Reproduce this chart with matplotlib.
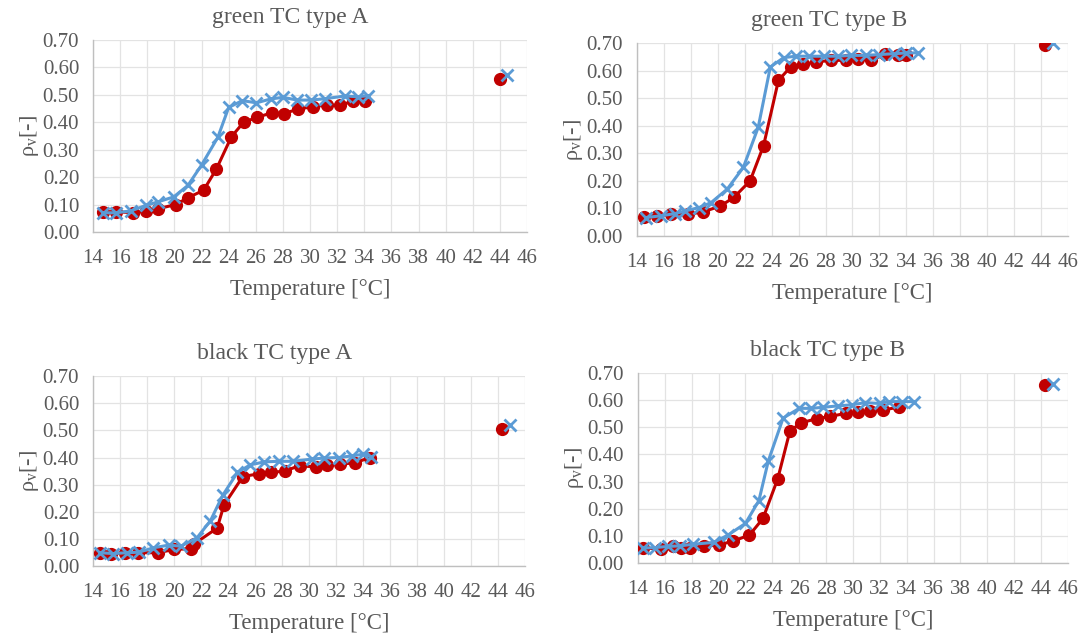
import matplotlib
matplotlib.use("Agg")
import matplotlib.pyplot as plt

plt.rcParams['font.family'] = ['Liberation Serif', 'DejaVu Serif']
plt.rcParams['mathtext.fontset'] = 'custom'
plt.rcParams['mathtext.rm'] = 'Liberation Serif'
plt.rcParams['mathtext.it'] = 'Liberation Serif:italic'

# green TC type A
ga_t_red = [14.75, 15.7, 16.95, 17.9, 18.8, 20.1, 21.0, 22.15, 23.1, 24.2, 25.1, 26.1, 27.2, 28.1, 29.1, 30.2, 31.25, 32.2, 33.2, 34.05]
ga_v_red = [0.073, 0.073, 0.071, 0.077, 0.085, 0.100, 0.125, 0.152, 0.230, 0.347, 0.400, 0.418, 0.435, 0.432, 0.448, 0.457, 0.463, 0.462, 0.477, 0.477]
ga_t_blue = [14.75, 15.7, 16.8, 17.9, 18.8, 19.95, 21.0, 22.0, 23.2, 24.0, 25.0, 26.05, 27.1, 28.0, 29.05, 30.1, 31.1, 32.6, 33.5, 34.3]
ga_v_blue = [0.070, 0.070, 0.077, 0.097, 0.110, 0.128, 0.170, 0.244, 0.345, 0.454, 0.479, 0.471, 0.485, 0.491, 0.481, 0.481, 0.486, 0.496, 0.493, 0.497]
ga_out = [44.0, 0.558, 44.55, 0.572]

# green TC type B
gb_t_red = [14.5, 15.5, 16.5, 17.8, 18.9, 20.2, 21.2, 22.4, 23.4, 24.5, 25.4, 26.3, 27.3, 28.4, 29.5, 30.4, 31.4, 32.4, 33.4, 34.0]
gb_v_red = [0.069, 0.073, 0.079, 0.079, 0.087, 0.109, 0.140, 0.200, 0.328, 0.564, 0.613, 0.623, 0.631, 0.637, 0.637, 0.643, 0.637, 0.659, 0.655, 0.655]
gb_t_blue = [14.7, 15.75, 16.8, 17.6, 18.6, 19.5, 20.7, 21.9, 23.0, 23.9, 24.9, 25.8, 26.8, 27.85, 28.9, 29.9, 31.0, 32.0, 33.05, 34.0, 34.9]
gb_v_blue = [0.067, 0.073, 0.081, 0.091, 0.103, 0.121, 0.170, 0.249, 0.394, 0.613, 0.647, 0.652, 0.652, 0.652, 0.652, 0.655, 0.655, 0.658, 0.661, 0.664, 0.664]
gb_out = [44.3, 0.694, 44.9, 0.700]

# black TC type A
ba_t_red = [14.5, 15.35, 16.4, 17.3, 18.8, 20.0, 21.25, 21.45, 23.2, 23.7, 25.1, 26.3, 27.2, 28.2, 29.3, 30.5, 31.3, 32.3, 33.4, 34.5]
ba_v_red = [0.049, 0.046, 0.049, 0.049, 0.049, 0.061, 0.064, 0.080, 0.140, 0.225, 0.330, 0.340, 0.345, 0.350, 0.370, 0.365, 0.372, 0.376, 0.380, 0.400]
ba_t_blue = [14.5, 15.5, 16.5, 17.4, 18.45, 19.6, 20.5, 21.7, 22.7, 23.6, 24.7, 25.65, 26.7, 27.75, 28.8, 30.2, 31.1, 32.2, 33.2, 34.0, 34.6]
ba_v_blue = [0.049, 0.046, 0.049, 0.051, 0.067, 0.077, 0.073, 0.104, 0.167, 0.260, 0.345, 0.373, 0.384, 0.386, 0.386, 0.394, 0.398, 0.400, 0.406, 0.412, 0.403]
ba_out = [44.3, 0.505, 44.9, 0.520]

# black TC type B
bb_t_red = [14.4, 15.7, 16.6, 17.2, 17.9, 18.9, 20.05, 21.1, 22.3, 23.3, 24.4, 25.3, 26.1, 27.3, 28.3, 29.5, 30.4, 31.3, 32.2, 33.4]
bb_v_red = [0.055, 0.052, 0.061, 0.055, 0.057, 0.061, 0.067, 0.081, 0.103, 0.164, 0.310, 0.485, 0.516, 0.532, 0.540, 0.552, 0.555, 0.562, 0.564, 0.574]
bb_t_blue = [14.4, 15.3, 16.2, 17.1, 18.1, 19.65, 20.7, 22.0, 23.0, 23.7, 24.8, 26.0, 26.9, 27.8, 28.85, 29.9, 30.9, 32.0, 32.7, 33.65, 34.55]
bb_v_blue = [0.055, 0.057, 0.061, 0.063, 0.069, 0.076, 0.103, 0.146, 0.230, 0.376, 0.534, 0.570, 0.570, 0.574, 0.579, 0.583, 0.591, 0.588, 0.595, 0.595, 0.595]
bb_out = [44.3, 0.655, 44.85, 0.659]

titles = ["green TC type A", "green TC type B", "black TC type A", "black TC type B"]
xticks = list(range(14, 47, 2))
yticks = [0.0, 0.1, 0.2, 0.3, 0.4, 0.5, 0.6, 0.7]

red = '#C00000'
blue = '#5B9BD5'
txt = '#595959'

fig = plt.figure(figsize=(10.78, 6.33), dpi=100)

boxes = [
    [0.0863, 0.6335, 0.4026, 0.3033],
    [0.5909, 0.6272, 0.3998, 0.3049],
    [0.0863, 0.1058, 0.4007, 0.3000],
    [0.5918, 0.1106, 0.3989, 0.3000],
]
title_x = [0.455, 0.445, 0.42, 0.44]

panels = [
    (ga_t_red, ga_v_red, ga_t_blue, ga_v_blue, ga_out),
    (gb_t_red, gb_v_red, gb_t_blue, gb_v_blue, gb_out),
    (ba_t_red, ba_v_red, ba_t_blue, ba_v_blue, ba_out),
    (bb_t_red, bb_v_red, bb_t_blue, bb_v_blue, bb_out),
]

for i, (tr, vr, tb, vb, out) in enumerate(panels):
    ax = fig.add_axes(boxes[i])
    ax.plot(tr, vr, color=red, lw=2.2, marker='o', ms=8.5, zorder=3)
    ax.plot(tb, vb, color=blue, lw=2.2, marker='x', ms=8.5, mew=2, zorder=4)
    ax.plot([out[0]], [out[1]], color=red, marker='o', ms=8.5, ls='none', zorder=3)
    ax.plot([out[2]], [out[3]], color=blue, marker='x', ms=8.5, mew=2, ls='none', zorder=4)

    ax.set_xlim(14, 46)
    ax.set_ylim(0, 0.7)
    ax.set_xticks(xticks)
    ax.set_yticks(yticks)
    ax.set_yticklabels([f"{v:.2f}" for v in yticks])
    ax.grid(True, color='#E3E3E3', lw=0.9)
    ax.set_axisbelow(True)
    for s in ['top', 'right']:
        ax.spines[s].set_visible(False)
    for s in ['left', 'bottom']:
        ax.spines[s].set_color('#BFBFBF')
        ax.spines[s].set_linewidth(1.0)
    ax.tick_params(length=0, labelsize=15, labelcolor=txt)
    ax.tick_params(axis='x', pad=12)
    ax.tick_params(axis='y', pad=10)
    ax.set_title(titles[i], fontsize=17, color=txt, x=title_x[i], pad=12)
    ax.set_xlabel('Temperature [°C]', fontsize=16.5, color=txt, labelpad=8)
    ax.set_ylabel(r'ρ$_\mathrm{v}$[-]', fontsize=16, color=txt, labelpad=1)

fig.savefig('out.png', dpi=100)
